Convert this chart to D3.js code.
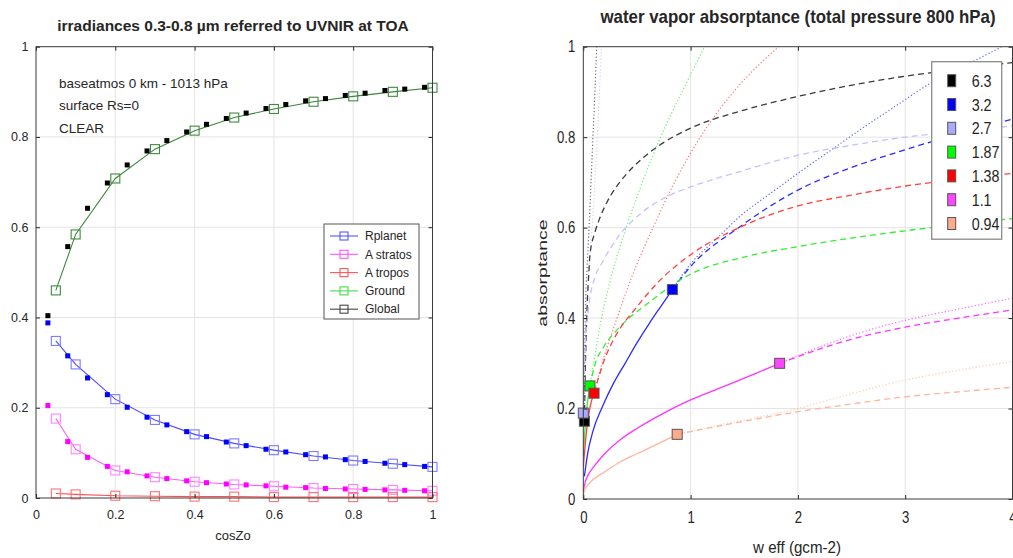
<!DOCTYPE html>
<html>
<head>
<meta charset="utf-8">
<script src="https://cdn.jsdelivr.net/npm/d3@7"></script>
<style>
  body { margin: 0; background: #fff; }
  svg { display: block; }
  text { font-family: "Liberation Sans", Arial, sans-serif; fill: #262626; }
</style>
</head>
<body>
<svg id="fig" width="1013" height="558"></svg>
<script>
// ---------- left panel: irradiances vs cosZo ----------
const cosOpen = [0.05, 0.1, 0.2, 0.3, 0.4, 0.5, 0.6, 0.7, 0.8, 0.9, 1.0];
const cosFilled = [0.03, 0.08, 0.13, 0.18, 0.23, 0.28, 0.33, 0.38, 0.43, 0.48,
                   0.53, 0.58, 0.63, 0.68, 0.73, 0.78, 0.83, 0.88, 0.93, 0.98];
const rplanetOpen = [0.348, 0.296, 0.219, 0.173, 0.141, 0.121, 0.106, 0.093, 0.083, 0.076, 0.069];
const rplanetFilled = [0.388, 0.315, 0.266, 0.229, 0.201, 0.179, 0.162, 0.147, 0.136, 0.124,
                       0.116, 0.108, 0.102, 0.096, 0.091, 0.085, 0.081, 0.077, 0.074, 0.070];
const astratosOpen = [0.176, 0.108, 0.061, 0.046, 0.036, 0.030, 0.026, 0.022, 0.020, 0.018, 0.016];
const astratosFilled = [0.205, 0.125, 0.090, 0.070, 0.058, 0.049, 0.043, 0.038, 0.034, 0.031,
                        0.029, 0.027, 0.024, 0.023, 0.021, 0.020, 0.019, 0.018, 0.017, 0.016];
const atroposOpen = [0.010, 0.008, 0.005, 0.004, 0.003, 0.003, 0.002, 0.002, 0.002, 0.002, 0.002];
const globalOpen = [0.460, 0.584, 0.708, 0.773, 0.814, 0.843, 0.862, 0.878, 0.890, 0.900, 0.909];
const globalFilled = [0.404, 0.557, 0.642, 0.698, 0.738, 0.769, 0.792, 0.811, 0.828, 0.841,
                      0.853, 0.863, 0.872, 0.880, 0.885, 0.892, 0.897, 0.903, 0.906, 0.910];
const leftLegend = ['Rplanet', 'A stratos', 'A tropos', 'Ground', 'Global'];
const leftNotes = ['baseatmos 0 km - 1013 hPa', 'surface Rs=0', 'CLEAR'];
const unitTicks = [0, 0.2, 0.4, 0.6, 0.8, 1];

// ---------- right panel: water vapor absorptance ----------
const bands = ['6.3', '3.2', '2.7', '1.87', '1.38', '1.1', '0.94'];
const markW = [0.01, 0.83, 0.0, 0.062, 0.10, 1.83, 0.875];
const markA = [0.172, 0.463, 0.19, 0.25, 0.234, 0.30, 0.143];
const wTicks = [0, 1, 2, 3, 4];

// [w, absorptance]
const solid32 = [[0.01, 0.05], [0.04, 0.1], [0.09, 0.15], [0.18, 0.205], [0.28, 0.255], [0.39, 0.3],
                 [0.5, 0.345], [0.62, 0.39], [0.72, 0.425], [0.83, 0.463]];
const solid187 = [[0.0, 0.094], [0.02, 0.17], [0.04, 0.215], [0.062, 0.25]];
const solid138 = [[0.0, 0.07], [0.03, 0.15], [0.06, 0.2], [0.10, 0.234]];
const solid11 = [[0.0, 0.015], [0.01, 0.03], [0.05, 0.055], [0.1, 0.072], [0.18, 0.095], [0.35, 0.132],
                 [0.5, 0.156], [0.75, 0.19], [1.0, 0.219], [1.27, 0.245], [1.58, 0.275], [1.83, 0.30]];
const solid094 = [[0.0, 0.008], [0.01, 0.018], [0.05, 0.033], [0.1, 0.045], [0.186, 0.058], [0.35, 0.083],
                  [0.5, 0.1], [0.714, 0.124], [0.875, 0.143]];

const dash63 = [[0.01, 0.172], [0.02, 0.3], [0.035, 0.42], [0.053, 0.506], [0.062, 0.54], [0.109, 0.59],
                [0.155, 0.622], [0.218, 0.655], [0.295, 0.686], [0.39, 0.715], [0.56, 0.755], [0.71, 0.782],
                [1.0, 0.82], [1.5, 0.86], [2.0, 0.89], [2.48, 0.914], [2.95, 0.933], [3.5, 0.95], [4.0, 0.965]];
const dash32 = [[0.83, 0.463], [1.0, 0.514], [1.46, 0.602], [2.0, 0.683], [2.5, 0.733], [3.0, 0.772],
                [3.5, 0.808], [4.0, 0.84]];
const dash27 = [[0.0, 0.19], [0.016, 0.322], [0.047, 0.418], [0.109, 0.49], [0.17, 0.52], [0.326, 0.58],
                [0.54, 0.632], [0.81, 0.672], [1.0, 0.69], [1.46, 0.724], [2.0, 0.76], [2.5, 0.782],
                [3.0, 0.8], [3.5, 0.813], [4.0, 0.825]];
const dash187 = [[0.062, 0.25], [0.1, 0.29], [0.2, 0.34], [0.3, 0.37], [0.45, 0.405], [0.6, 0.432],
                 [0.84, 0.475], [1.0, 0.497], [1.5, 0.535], [2.0, 0.558], [2.5, 0.577], [3.0, 0.593],
                 [3.5, 0.607], [4.0, 0.62]];
const dash138 = [[0.10, 0.234], [0.2, 0.31], [0.3, 0.36], [0.5, 0.425], [0.7, 0.48], [1.0, 0.54],
                 [1.5, 0.605], [2.0, 0.648], [2.5, 0.672], [3.0, 0.692], [3.5, 0.707], [4.0, 0.72]];
const dash11 = [[1.83, 0.30], [2.48, 0.352], [3.0, 0.38], [3.5, 0.40], [4.0, 0.418]];
const dash094 = [[0.875, 0.143], [1.5, 0.172], [2.0, 0.193], [2.5, 0.21], [3.0, 0.226], [3.5, 0.237], [4.0, 0.247]];

const dot63 = [[0.01, 0.172], [0.012, 0.3], [0.02, 0.42], [0.035, 0.51], [0.05, 0.58], [0.07, 0.69],
               [0.09, 0.8], [0.108, 0.9], [0.125, 1.0]];
const dot32 = [[0.83, 0.463], [1.0, 0.52], [1.24, 0.575], [1.46, 0.625], [1.77, 0.68], [2.0, 0.72],
               [2.39, 0.785], [2.48, 0.80], [2.95, 0.875], [3.24, 0.92], [3.63, 0.967], [3.9, 1.0]];
const dot27 = [[0.0, 0.19], [0.01, 0.3], [0.03, 0.42], [0.06, 0.53], [0.09, 0.63], [0.12, 0.75],
               [0.145, 0.87], [0.17, 1.0]];
const dot187 = [[0.062, 0.25], [0.1, 0.305], [0.17, 0.4], [0.27, 0.5], [0.4, 0.6], [0.55, 0.7],
                [0.72, 0.8], [0.92, 0.9], [1.13, 1.0]];
const dot138 = [[0.10, 0.234], [0.2, 0.32], [0.3, 0.39], [0.45, 0.49], [0.65, 0.6], [0.85, 0.7],
                [1.09, 0.8], [1.4, 0.9], [1.82, 1.0]];
const dot11 = [[1.83, 0.30], [2.48, 0.36], [3.0, 0.395], [3.5, 0.42], [4.0, 0.444]];
const dot094 = [[0.875, 0.143], [1.3, 0.165], [2.0, 0.2], [2.5, 0.233], [3.0, 0.263], [3.5, 0.285], [4.0, 0.304]];

// ---------- styling ----------
const bandFill = { '6.3': '#000000', '3.2': '#0000ff', '2.7': '#aaaaff', '1.87': '#00ff00',
                   '1.38': '#ff0000', '1.1': '#ff44ff', '0.94': '#ffaa8c' };
const bandLine = { '6.3': '#3a3a3a', '3.2': '#2b2bff', '2.7': '#c2c2ff', '1.87': '#33ee33',
                   '1.38': '#ff4040', '1.1': '#ff33ff', '0.94': '#ffb49c' };

const svg = d3.select('#fig');
const fmt = d3.format('~g');

// the right-hand figure is horizontally squeezed: narrow the glyphs
function condense(sel, k) {
  sel.each(function () {
    const w = this.getComputedTextLength();
    d3.select(this).attr('textLength', w * k).attr('lengthAdjust', 'spacingAndGlyphs');
  });
}

function grid(g, x, y, xt, yt) {
  const [x0, x1] = x.range(), [y0, y1] = y.range();
  g.append('g').selectAll('line').data(xt.slice(1, -1)).join('line')
    .attr('x1', d => x(d)).attr('x2', d => x(d)).attr('y1', y0).attr('y2', y1)
    .attr('stroke', '#e4e4e4');
  g.append('g').selectAll('line').data(yt.slice(1, -1)).join('line')
    .attr('y1', d => y(d)).attr('y2', d => y(d)).attr('x1', x0).attr('x2', x1)
    .attr('stroke', '#e4e4e4');
}

function axes(g, x, y, xt, yt, fs, padX, padY) {
  const [x0, x1] = x.range(), [y0, y1] = y.range();
  const style = s => s.call(a => a.select('.domain').remove())
    .call(a => a.selectAll('line').attr('stroke', '#262626'))
    .call(a => a.selectAll('text').attr('font-size', fs).attr('fill', '#262626'));
  const ax = g.append('g');
  ax.append('g').attr('transform', `translate(0,${y0})`)
    .call(d3.axisBottom(x).tickValues(xt).tickSize(-4).tickPadding(padX).tickFormat(fmt)).call(style);
  ax.append('g').attr('transform', `translate(0,${y1})`)
    .call(d3.axisTop(x).tickValues(xt).tickSize(-4).tickFormat('')).call(style);
  ax.append('g').attr('transform', `translate(${x0},0)`)
    .call(d3.axisLeft(y).tickValues(yt).tickSize(-4).tickPadding(padY).tickFormat(fmt)).call(style);
  ax.append('g').attr('transform', `translate(${x1},0)`)
    .call(d3.axisRight(y).tickValues(yt).tickSize(-4).tickFormat('')).call(style);
  ax.append('rect').attr('x', x0).attr('y', y1).attr('width', x1 - x0).attr('height', y0 - y1)
    .attr('fill', 'none').attr('stroke', '#3a3a3a').attr('stroke-width', 1);
  return ax;
}

// ================= LEFT =================
const xL = d3.scaleLinear().domain([0, 1]).range([36, 432.5]);
const yL = d3.scaleLinear().domain([0, 1]).range([498, 46.7]);
const gL = svg.append('g');
grid(gL, xL, yL, unitTicks, unitTicks);

const leftSeries = [
  { name: 'Rplanet', open: rplanetOpen, filled: rplanetFilled, line: '#4b4bff', mk: '#7c7cff', dot: '#0000ff' },
  { name: 'A stratos', open: astratosOpen, filled: astratosFilled, line: '#ff5cff', mk: '#ff84ff', dot: '#ff00ff' },
  { name: 'A tropos', open: atroposOpen, filled: null, line: '#ff5050', mk: '#ff7272', dot: '#ff0000' },
  { name: 'Global', open: globalOpen, filled: globalFilled, line: '#3b873b', mk: '#3f8a3f', dot: '#000000' }
];
const lineL = d3.line().x(d => xL(d[0])).y(d => yL(d[1]));
leftSeries.forEach(s => {
  const pts = cosOpen.map((c, i) => [c, s.open[i]]);
  gL.append('path').datum(pts).attr('d', lineL).attr('fill', 'none')
    .attr('stroke', s.line).attr('stroke-width', 1.1);
  gL.append('g').selectAll('rect').data(pts).join('rect')
    .attr('x', d => xL(d[0]) - 4.5).attr('y', d => yL(d[1]) - 4.5)
    .attr('width', 9).attr('height', 9).attr('fill', 'none').attr('stroke', s.mk).attr('stroke-width', 1.1);
});
leftSeries.filter(s => s.filled).forEach(s => {
  gL.append('g').selectAll('rect').data(cosFilled.map((c, i) => [c, s.filled[i]])).join('rect')
    .attr('x', d => xL(d[0]) - 2.5).attr('y', d => yL(d[1]) - 2.5)
    .attr('width', 5).attr('height', 5).attr('fill', s.dot);
});
axes(gL, xL, yL, unitTicks, unitTicks, 12.5, 12, 7.5);

gL.append('text').attr('x', 233).attr('y', 30.5).attr('text-anchor', 'middle')
  .attr('font-size', 15.5).attr('font-weight', 'bold').attr('fill', '#111')
  .text('irradiances 0.3-0.8 µm referred to UVNIR at TOA');
gL.append('text').attr('x', 233).attr('y', 540).attr('text-anchor', 'middle')
  .attr('font-size', 13).text('cosZo');
gL.selectAll('text.note').data(leftNotes).join('text').attr('class', 'note')
  .attr('x', 59).attr('y', (d, i) => 87.5 + i * 22.5).attr('font-size', 13.5).text(d => d);

// left legend
const legL = gL.append('g').attr('transform', 'translate(324,224)');
legL.append('rect').attr('width', 95).attr('height', 95).attr('fill', '#fff')
  .attr('stroke', '#555').attr('stroke-width', 1);
const legColors = { 'Rplanet': '#5555ff', 'A stratos': '#ff55ff', 'A tropos': '#ff5555', 'Ground': '#44dd44', 'Global': '#444444' };
leftLegend.forEach((name, i) => {
  const yy = 12 + i * 18.3;
  legL.append('line').attr('x1', 6).attr('x2', 34).attr('y1', yy).attr('y2', yy)
    .attr('stroke', legColors[name]).attr('stroke-width', 1.1);
  legL.append('rect').attr('x', 16).attr('y', yy - 4).attr('width', 8).attr('height', 8)
    .attr('fill', 'none').attr('stroke', legColors[name]).attr('stroke-width', 1.1);
  legL.append('text').attr('x', 41).attr('y', yy).attr('dy', '0.35em').attr('font-size', 12).text(name);
});

// ================= RIGHT =================
const xR = d3.scaleLinear().domain([0, 4]).range([583.3, 1012.5]);
const yR = d3.scaleLinear().domain([0, 1]).range([499, 46.7]);
const gR = svg.append('g');
grid(gR, xR, yR, wTicks, unitTicks);

svg.append('clipPath').attr('id', 'clipR').append('rect')
  .attr('x', xR(0)).attr('y', yR(1)).attr('width', xR(4) - xR(0)).attr('height', yR(0) - yR(1));

const curves = [
  ['6.3', 'dot', dot63], ['2.7', 'dot', dot27], ['1.87', 'dot', dot187], ['1.38', 'dot', dot138],
  ['3.2', 'dot', dot32], ['1.1', 'dot', dot11], ['0.94', 'dot', dot094],
  ['6.3', 'dash', dash63], ['2.7', 'dash', dash27], ['3.2', 'dash', dash32], ['1.87', 'dash', dash187],
  ['1.38', 'dash', dash138], ['1.1', 'dash', dash11], ['0.94', 'dash', dash094],
  ['3.2', 'solid', solid32], ['1.87', 'solid', solid187], ['1.38', 'solid', solid138],
  ['1.1', 'solid', solid11], ['0.94', 'solid', solid094]
];
const lineR = d3.line().x(d => xR(d[0])).y(d => yR(d[1])).curve(d3.curveMonotoneX);
const gCurves = gR.append('g').attr('clip-path', 'url(#clipR)');
curves.forEach(([band, kind, pts]) => {
  gCurves.append('path').datum(pts).attr('d', lineR).attr('fill', 'none')
    .attr('stroke', bandLine[band])
    .attr('stroke-width', kind === 'dot' ? 1.2 : 1.3)
    .attr('stroke-opacity', kind === 'dot' ? 0.75 : 1)
    .attr('stroke-dasharray', kind === 'dash' ? '6,4' : kind === 'dot' ? '1.2,2.2' : null);
});

gR.append('g').selectAll('rect').data(bands).join('rect')
  .attr('x', (d, i) => xR(markW[i]) - 5).attr('y', (d, i) => yR(markA[i]) - 5)
  .attr('width', 10).attr('height', 10)
  .attr('fill', d => bandFill[d]).attr('stroke', '#555').attr('stroke-width', 1);

const axR = axes(gR, xR, yR, wTicks, unitTicks, 16, 13, 8);
condense(axR.selectAll('text'), 0.82);

gR.append('text').attr('x', 798).attr('y', 23).attr('text-anchor', 'middle')
  .attr('font-size', 18.5).attr('font-weight', 'bold').attr('fill', '#111')
  .attr('textLength', 395).attr('lengthAdjust', 'spacingAndGlyphs')
  .text('water vapor absorptance (total pressure 800 hPa)');
gR.append('text').attr('x', 797).attr('y', 553).attr('text-anchor', 'middle')
  .attr('font-size', 17).attr('textLength', 88).attr('lengthAdjust', 'spacingAndGlyphs')
  .text('w eff (gcm-2)');
gR.append('text').attr('transform', 'translate(547,273) scale(0.7,1) rotate(-90)').attr('text-anchor', 'middle')
  .attr('font-size', 19.5).text('absorptance');

// right legend
const legR = gR.append('g').attr('transform', 'translate(931.7,61.7)');
legR.append('rect').attr('width', 70).attr('height', 177.5).attr('fill', '#fff')
  .attr('stroke', '#8a8a8a').attr('stroke-width', 1.3);
bands.forEach((b, i) => {
  const yy = 19 + i * 23.8;
  legR.append('rect').attr('x', 16).attr('y', yy - 6).attr('width', 8).attr('height', 12)
    .attr('fill', bandFill[b]).attr('stroke', '#555').attr('stroke-width', 1);
  legR.append('text').attr('x', 40).attr('y', yy).attr('dy', '0.36em').attr('font-size', 17).text(b)
    .call(condense, 0.84);
});
</script>
</body>
</html>
